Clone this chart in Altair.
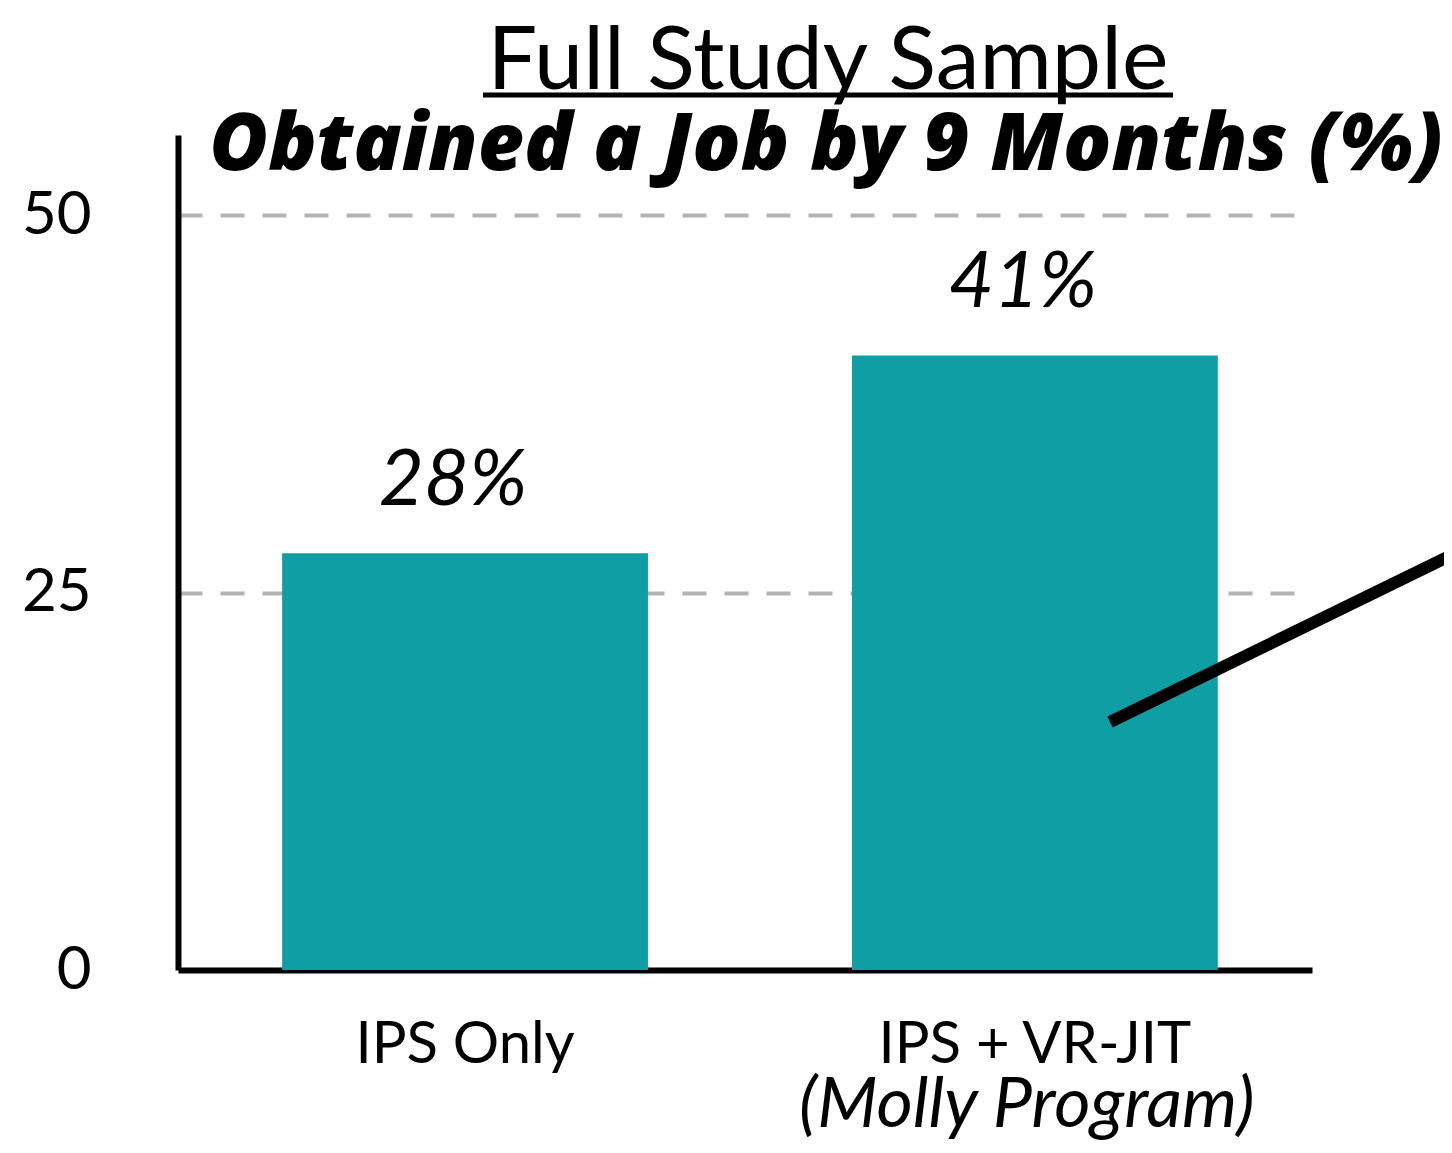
import altair as alt
import pandas as pd

categories = ["IPS Only", "IPS + VR-JIT"]
values = [27.6, 40.7]
value_labels = ["28%", "41%"]
second_lines = ["", "(Molly Program)"]
y_ticks = [0, 25, 50]

title_text = "Full Study Sample"
subtitle_text = "Obtained a Job by 9 Months (%)"

df = pd.DataFrame({"cat": categories, "val": values, "lab": value_labels, "sub": second_lines})

W, H = 1134, 835
FONT = "Lato"

xscale = alt.Scale(domain=categories, paddingInner=0.358, paddingOuter=0.174, align=0.525)
yscale = alt.Scale(domain=[0, 55.3], nice=False)

base = alt.Chart(df)

bars = base.mark_bar(color="#109ea5").encode(
    x=alt.X("cat:N", scale=xscale, sort=categories,
            axis=alt.Axis(title=None, labelAngle=0, labelFontSize=58, labelFont=FONT,
                          labelColor="black", labelPadding=46, labelLimit=0, ticks=False,
                          domainColor="black", domainWidth=6, grid=False)),
    y=alt.Y("val:Q", scale=yscale,
            axis=alt.Axis(title=None, values=y_ticks, labelFontSize=60, labelFont=FONT,
                          labelColor="black", labelPadding=87, ticks=False,
                          domainColor="black", domainWidth=6,
                          grid=True, gridDash=[24, 18], gridColor="#b3b3b3", gridWidth=4,
                          gridOpacity={"condition": {"test": "datum.value === 0", "value": 0}, "value": 1})),
)

labels = base.mark_text(font=FONT, fontStyle="italic", fontSize=78, baseline="alphabetic",
                        dy=-48, dx=-12, color="black").encode(
    x=alt.X("cat:N", scale=xscale, sort=categories),
    y=alt.Y("val:Q", scale=yscale),
    text="lab:N",
)

sub = base.transform_filter("datum.sub != ''").mark_text(
    font=FONT, fontStyle="italic", fontSize=70, baseline="alphabetic", dx=-8, color="black"
).encode(
    x=alt.X("cat:N", scale=xscale, sort=categories),
    y=alt.value(H + 157),
    text="sub:N",
)

tdf = pd.DataFrame({"t": [title_text], "s": [subtitle_text]})
tchart = alt.Chart(tdf)
title_mark = tchart.mark_text(font=FONT, fontSize=88, align="center", baseline="alphabetic",
                              color="black").encode(
    x=alt.value(650), y=alt.value(-46), text="t:N")
underline = tchart.mark_rule(color="black", strokeWidth=5).encode(
    x=alt.value(305), x2=alt.value(995), y=alt.value(-40))
subtitle_mark = tchart.mark_text(font="Open Sans", fontSize=80, fontWeight=800, fontStyle="italic",
                                 align="center", baseline="alphabetic", color="black").encode(
    x=alt.value(648), y=alt.value(35), text="s:N")

arrow = tchart.mark_rule(color="black", strokeWidth=12, strokeCap="butt").encode(
    x=alt.value(932), y=alt.value(587), x2=alt.value(1290), y2=alt.value(412))

chart = alt.layer(bars, labels, sub, arrow, title_mark, underline, subtitle_mark).properties(
    width=W, height=H,
    autosize=alt.AutoSizeParams(type="none"),
    padding={"left": 170, "top": 127, "right": 132, "bottom": 171},
    view=alt.ViewBackground(stroke="transparent", strokeWidth=0),
).configure_view(stroke="transparent", strokeWidth=0).configure(background="white")

chart.save("out.html", embed_options={"renderer": "svg", "actions": False})
